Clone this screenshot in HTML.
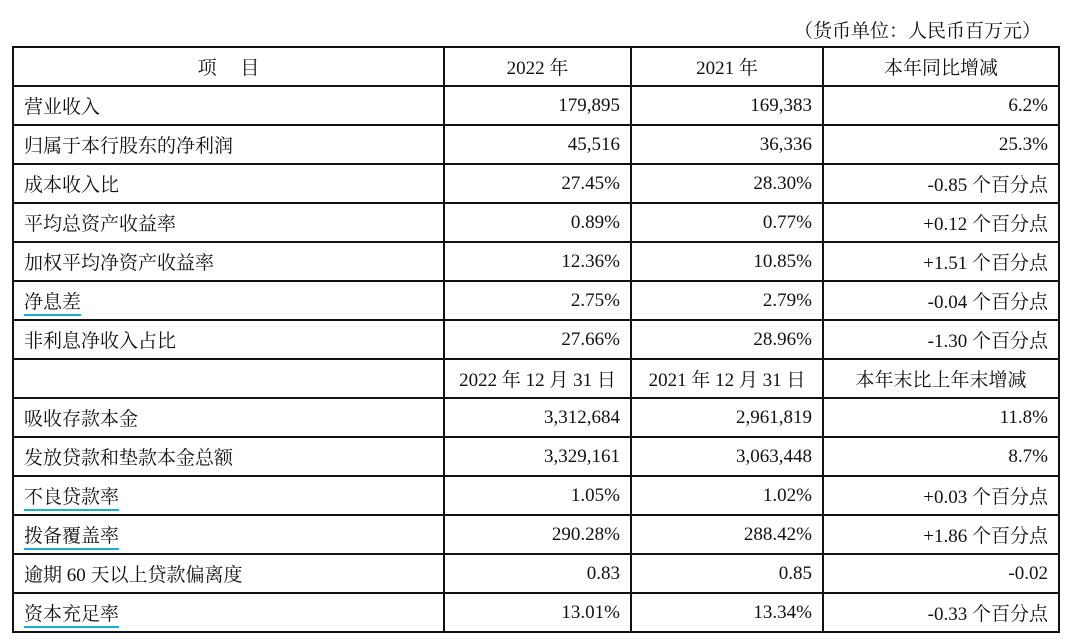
<!DOCTYPE html>
<html><head><meta charset="utf-8"><style>
body{margin:0;width:1069px;height:639px;background:#fff;overflow:hidden;font-family:"Liberation Serif","Noto Serif CJK SC",serif;color:#111;}
.unit{position:absolute;right:28px;top:16px;font-size:19px;}
table{position:absolute;left:12px;top:46px;border-collapse:collapse;table-layout:fixed;width:1046px;font-size:19px;}
td{border:2px solid #111;height:37px;padding:0 10px;white-space:nowrap;}
td.c{text-align:center}td.r{text-align:right}
.u{border-bottom:2px solid #1ab0c8;padding-bottom:1px}
</style></head><body>
<div class="unit">（货币单位：人民币百万元）</div>
<table>
<colgroup><col style="width:431px"><col style="width:187px"><col style="width:192px"><col style="width:236px"></colgroup>
<tr><td class="c">项&emsp;&nbsp;目</td><td class="c">2022 年</td><td class="c">2021 年</td><td class="c">本年同比增减</td></tr>
<tr><td>营业收入</td><td class="r">179,895</td><td class="r">169,383</td><td class="r">6.2%</td></tr>
<tr><td>归属于本行股东的净利润</td><td class="r">45,516</td><td class="r">36,336</td><td class="r">25.3%</td></tr>
<tr><td>成本收入比</td><td class="r">27.45%</td><td class="r">28.30%</td><td class="r">-0.85 个百分点</td></tr>
<tr><td>平均总资产收益率</td><td class="r">0.89%</td><td class="r">0.77%</td><td class="r">+0.12 个百分点</td></tr>
<tr><td>加权平均净资产收益率</td><td class="r">12.36%</td><td class="r">10.85%</td><td class="r">+1.51 个百分点</td></tr>
<tr><td><span class="u">净息差</span></td><td class="r">2.75%</td><td class="r">2.79%</td><td class="r">-0.04 个百分点</td></tr>
<tr><td>非利息净收入占比</td><td class="r">27.66%</td><td class="r">28.96%</td><td class="r">-1.30 个百分点</td></tr>
<tr><td></td><td class="c">2022 年 12 月 31 日</td><td class="c">2021 年 12 月 31 日</td><td class="c">本年末比上年末增减</td></tr>
<tr><td>吸收存款本金</td><td class="r">3,312,684</td><td class="r">2,961,819</td><td class="r">11.8%</td></tr>
<tr><td>发放贷款和垫款本金总额</td><td class="r">3,329,161</td><td class="r">3,063,448</td><td class="r">8.7%</td></tr>
<tr><td><span class="u">不良贷款率</span></td><td class="r">1.05%</td><td class="r">1.02%</td><td class="r">+0.03 个百分点</td></tr>
<tr><td><span class="u">拨备覆盖率</span></td><td class="r">290.28%</td><td class="r">288.42%</td><td class="r">+1.86 个百分点</td></tr>
<tr><td>逾期 60 天以上贷款偏离度</td><td class="r">0.83</td><td class="r">0.85</td><td class="r">-0.02</td></tr>
<tr><td><span class="u">资本充足率</span></td><td class="r">13.01%</td><td class="r">13.34%</td><td class="r">-0.33 个百分点</td></tr>
</table>
</body></html>
